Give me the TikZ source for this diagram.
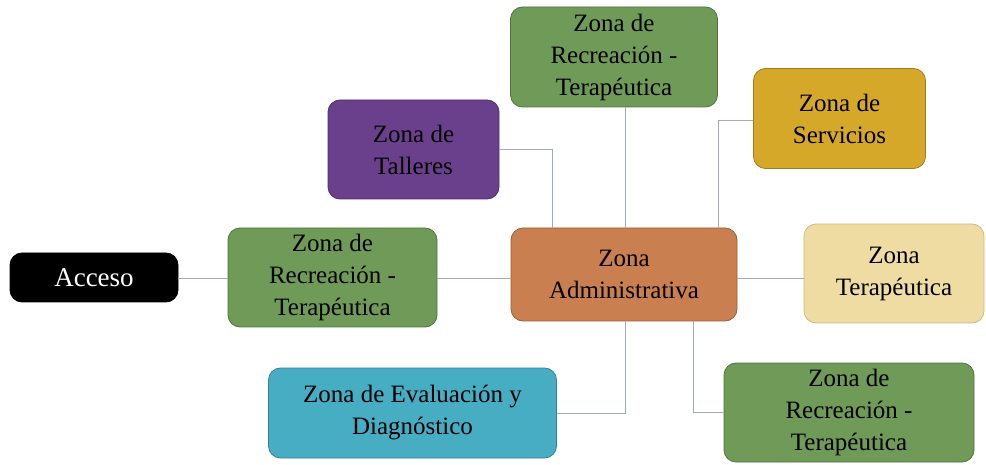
\documentclass[tikz,border=0pt]{standalone}
\usepackage{fontspec}
\setmainfont{Liberation Serif}
\definecolor{cgreen}{HTML}{6F9A58}
\definecolor{corange}{HTML}{C97F4F}
\definecolor{ctan}{HTML}{EEDCA3}
\definecolor{cgold}{HTML}{D6A82A}
\definecolor{cpurple}{HTML}{6A3F8C}
\definecolor{cteal}{HTML}{46ADC3}
\definecolor{cline}{HTML}{A3AABD}
\begin{document}
\begin{tikzpicture}[x=1pt,y=-1pt,
  zone/.style={rounded corners=12pt, draw=#1!75!black, fill=#1, line width=0.8pt,
    inner sep=0pt, align=center, font=\fontsize{25}{32}\selectfont, text=black},
  link/.style={draw=cline, line width=0.9pt}]
\useasboundingbox (0,0) rectangle (986,465);
\node[zone=black, text=white, minimum width=168pt, minimum height=49pt, font=\fontsize{27}{32}\selectfont] (acc) at (94,277.5) {Acceso};
\node[zone=cgreen, minimum width=209pt, minimum height=99pt] (rl) at (332.5,277.5) {Zona de\\Recreación -\\Terapéutica};
\node[zone=corange, minimum width=226pt, minimum height=93pt] (adm) at (624,274.5) {Zona\\Administrativa};
\node[zone=ctan, draw=ctan!85!black, minimum width=180pt, minimum height=99pt] (ter) at (894,273.5) {Zona\\Terapéutica};
\node[zone=cpurple, minimum width=171pt, minimum height=99pt] (tal) at (413.5,149.5) {Zona de\\Talleres};
\node[zone=cgreen, minimum width=207pt, minimum height=100pt] (rt) at (614,57) {Zona de\\Recreación -\\Terapéutica};
\node[zone=cgold, minimum width=172pt, minimum height=100pt] (ser) at (839.5,118.5) {Zona de\\Servicios};
\node[zone=cteal, minimum width=288pt, minimum height=90pt] (eva) at (412.5,413) {Zona de Evaluación y\\Diagnóstico};
\node[zone=cgreen, minimum width=250pt, minimum height=99pt] (rb) at (849,412.5) {Zona de\\Recreación -\\Terapéutica};
\draw[link] (acc.east |- 0,278) -- (rl.west |- 0,278);
\draw[link] (rl.east |- 0,278) -- (adm.west |- 0,278);
\draw[link] (adm.east |- 0,278) -- (ter.west |- 0,278);
\draw[link] (tal.east) -| (adm.north -| 552,0);
\draw[link] (rt.south -| 625,0) -- (adm.north -| 625,0);
\draw[link] (ser.west |- 0,120) -| (adm.north -| 718,0);
\draw[link] (adm.south -| 625,0) |- (eva.east);
\draw[link] (adm.south -| 693,0) |- (rb.west);
\end{tikzpicture}
\end{document}
